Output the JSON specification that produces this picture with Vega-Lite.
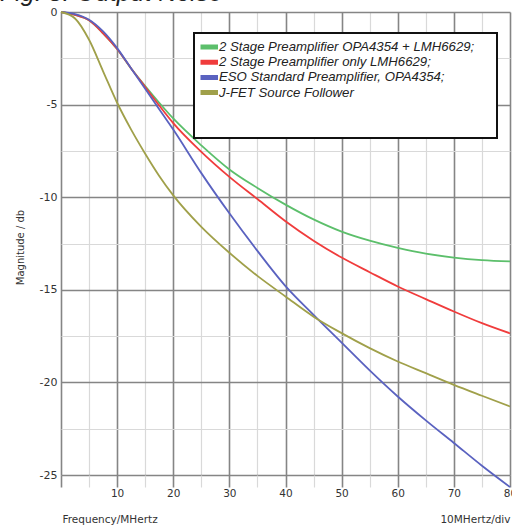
{
  "$schema": "https://vega.github.io/schema/vega-lite/v6.json",
  "width": 449,
  "height": 463,
  "autosize": "none",
  "padding": {"left": 61, "top": 12, "right": 2, "bottom": 52},
  "background": "white",
  "title": {
    "text": "Fig. 8: Output Noise",
    "font": "Liberation Sans",
    "fontSize": 25,
    "fontStyle": "italic",
    "fontWeight": "normal",
    "color": "#222222",
    "anchor": "start",
    "frame": "group",
    "dx": -61,
    "baseline": "alphabetic",
    "offset": -20
  },
  "config": {
    "view": {"stroke": null},
    "font": "DejaVu Sans",
    "legend": {"strokeWidth": 2}
  },
  "data": {
    "values": [
      {"f": 0, "db": 0, "s": "2 Stage Preamplifier OPA4354 + LMH6629;"},
      {"f": 2.5, "db": -0.15, "s": "2 Stage Preamplifier OPA4354 + LMH6629;"},
      {"f": 5, "db": -0.45, "s": "2 Stage Preamplifier OPA4354 + LMH6629;"},
      {"f": 7.5, "db": -1.15, "s": "2 Stage Preamplifier OPA4354 + LMH6629;"},
      {"f": 10, "db": -2.0, "s": "2 Stage Preamplifier OPA4354 + LMH6629;"},
      {"f": 12.5, "db": -3.05, "s": "2 Stage Preamplifier OPA4354 + LMH6629;"},
      {"f": 15, "db": -4.0, "s": "2 Stage Preamplifier OPA4354 + LMH6629;"},
      {"f": 17.5, "db": -4.9, "s": "2 Stage Preamplifier OPA4354 + LMH6629;"},
      {"f": 20, "db": -5.75, "s": "2 Stage Preamplifier OPA4354 + LMH6629;"},
      {"f": 25, "db": -7.2, "s": "2 Stage Preamplifier OPA4354 + LMH6629;"},
      {"f": 30, "db": -8.5, "s": "2 Stage Preamplifier OPA4354 + LMH6629;"},
      {"f": 35, "db": -9.5, "s": "2 Stage Preamplifier OPA4354 + LMH6629;"},
      {"f": 40, "db": -10.4, "s": "2 Stage Preamplifier OPA4354 + LMH6629;"},
      {"f": 45, "db": -11.2, "s": "2 Stage Preamplifier OPA4354 + LMH6629;"},
      {"f": 50, "db": -11.86, "s": "2 Stage Preamplifier OPA4354 + LMH6629;"},
      {"f": 55, "db": -12.35, "s": "2 Stage Preamplifier OPA4354 + LMH6629;"},
      {"f": 60, "db": -12.74, "s": "2 Stage Preamplifier OPA4354 + LMH6629;"},
      {"f": 65, "db": -13.05, "s": "2 Stage Preamplifier OPA4354 + LMH6629;"},
      {"f": 70, "db": -13.26, "s": "2 Stage Preamplifier OPA4354 + LMH6629;"},
      {"f": 75, "db": -13.4, "s": "2 Stage Preamplifier OPA4354 + LMH6629;"},
      {"f": 80, "db": -13.47, "s": "2 Stage Preamplifier OPA4354 + LMH6629;"},
      {"f": 0, "db": 0, "s": "2 Stage Preamplifier only LMH6629;"},
      {"f": 2.5, "db": -0.15, "s": "2 Stage Preamplifier only LMH6629;"},
      {"f": 5, "db": -0.45, "s": "2 Stage Preamplifier only LMH6629;"},
      {"f": 7.5, "db": -1.15, "s": "2 Stage Preamplifier only LMH6629;"},
      {"f": 10, "db": -2.0, "s": "2 Stage Preamplifier only LMH6629;"},
      {"f": 12.5, "db": -3.05, "s": "2 Stage Preamplifier only LMH6629;"},
      {"f": 15, "db": -4.05, "s": "2 Stage Preamplifier only LMH6629;"},
      {"f": 17.5, "db": -5.05, "s": "2 Stage Preamplifier only LMH6629;"},
      {"f": 20, "db": -6.0, "s": "2 Stage Preamplifier only LMH6629;"},
      {"f": 25, "db": -7.55, "s": "2 Stage Preamplifier only LMH6629;"},
      {"f": 30, "db": -8.9, "s": "2 Stage Preamplifier only LMH6629;"},
      {"f": 35, "db": -10.1, "s": "2 Stage Preamplifier only LMH6629;"},
      {"f": 40, "db": -11.3, "s": "2 Stage Preamplifier only LMH6629;"},
      {"f": 45, "db": -12.35, "s": "2 Stage Preamplifier only LMH6629;"},
      {"f": 50, "db": -13.26, "s": "2 Stage Preamplifier only LMH6629;"},
      {"f": 55, "db": -14.05, "s": "2 Stage Preamplifier only LMH6629;"},
      {"f": 60, "db": -14.82, "s": "2 Stage Preamplifier only LMH6629;"},
      {"f": 65, "db": -15.5, "s": "2 Stage Preamplifier only LMH6629;"},
      {"f": 70, "db": -16.17, "s": "2 Stage Preamplifier only LMH6629;"},
      {"f": 75, "db": -16.8, "s": "2 Stage Preamplifier only LMH6629;"},
      {"f": 80, "db": -17.35, "s": "2 Stage Preamplifier only LMH6629;"},
      {"f": 0, "db": 0, "s": "ESO Standard Preamplifier, OPA4354;"},
      {"f": 2.5, "db": -0.12, "s": "ESO Standard Preamplifier, OPA4354;"},
      {"f": 5, "db": -0.42, "s": "ESO Standard Preamplifier, OPA4354;"},
      {"f": 7.5, "db": -1.05, "s": "ESO Standard Preamplifier, OPA4354;"},
      {"f": 10, "db": -1.95, "s": "ESO Standard Preamplifier, OPA4354;"},
      {"f": 12.5, "db": -3.05, "s": "ESO Standard Preamplifier, OPA4354;"},
      {"f": 15, "db": -4.15, "s": "ESO Standard Preamplifier, OPA4354;"},
      {"f": 17.5, "db": -5.25, "s": "ESO Standard Preamplifier, OPA4354;"},
      {"f": 20, "db": -6.35, "s": "ESO Standard Preamplifier, OPA4354;"},
      {"f": 25, "db": -8.7, "s": "ESO Standard Preamplifier, OPA4354;"},
      {"f": 30, "db": -10.87, "s": "ESO Standard Preamplifier, OPA4354;"},
      {"f": 35, "db": -12.9, "s": "ESO Standard Preamplifier, OPA4354;"},
      {"f": 40, "db": -14.8, "s": "ESO Standard Preamplifier, OPA4354;"},
      {"f": 45, "db": -16.35, "s": "ESO Standard Preamplifier, OPA4354;"},
      {"f": 50, "db": -17.85, "s": "ESO Standard Preamplifier, OPA4354;"},
      {"f": 55, "db": -19.35, "s": "ESO Standard Preamplifier, OPA4354;"},
      {"f": 60, "db": -20.76, "s": "ESO Standard Preamplifier, OPA4354;"},
      {"f": 65, "db": -22.05, "s": "ESO Standard Preamplifier, OPA4354;"},
      {"f": 70, "db": -23.27, "s": "ESO Standard Preamplifier, OPA4354;"},
      {"f": 75, "db": -24.5, "s": "ESO Standard Preamplifier, OPA4354;"},
      {"f": 80, "db": -25.65, "s": "ESO Standard Preamplifier, OPA4354;"},
      {"f": 0, "db": 0, "s": "J-FET Source Follower"},
      {"f": 2.5, "db": -0.35, "s": "J-FET Source Follower"},
      {"f": 5, "db": -1.5, "s": "J-FET Source Follower"},
      {"f": 7.5, "db": -3.2, "s": "J-FET Source Follower"},
      {"f": 10, "db": -4.9, "s": "J-FET Source Follower"},
      {"f": 12.5, "db": -6.35, "s": "J-FET Source Follower"},
      {"f": 15, "db": -7.65, "s": "J-FET Source Follower"},
      {"f": 17.5, "db": -8.85, "s": "J-FET Source Follower"},
      {"f": 20, "db": -9.9, "s": "J-FET Source Follower"},
      {"f": 25, "db": -11.6, "s": "J-FET Source Follower"},
      {"f": 30, "db": -13.0, "s": "J-FET Source Follower"},
      {"f": 35, "db": -14.25, "s": "J-FET Source Follower"},
      {"f": 40, "db": -15.36, "s": "J-FET Source Follower"},
      {"f": 45, "db": -16.45, "s": "J-FET Source Follower"},
      {"f": 50, "db": -17.34, "s": "J-FET Source Follower"},
      {"f": 55, "db": -18.15, "s": "J-FET Source Follower"},
      {"f": 60, "db": -18.87, "s": "J-FET Source Follower"},
      {"f": 65, "db": -19.5, "s": "J-FET Source Follower"},
      {"f": 70, "db": -20.13, "s": "J-FET Source Follower"},
      {"f": 75, "db": -20.72, "s": "J-FET Source Follower"},
      {"f": 80, "db": -21.3, "s": "J-FET Source Follower"}
    ]
  },
  "layer": [
    {
      "mark": {"type": "line", "opacity": 0},
      "encoding": {
        "x": {
          "field": "f",
          "type": "quantitative",
          "scale": {"domain": [0, 80], "nice": false, "zero": false},
          "axis": {
            "orient": "bottom",
            "title": "10MHertz/div",
            "titleFont": "DejaVu Sans",
            "titleFontSize": 10.5,
            "titleFontWeight": "normal",
            "titleColor": "#333333",
            "titleX": 449,
            "titleY": 44,
            "titleAlign": "right",
            "titleAnchor": "end",
            "titleBaseline": "middle",
            "labels": false,
            "ticks": false,
            "domain": false,
            "grid": false
          }
        },
        "y": {"field": "db", "type": "quantitative", "scale": {"domain": [-25, 0], "nice": false, "zero": false}}
      }
    },
    {
      "mark": {"type": "line", "strokeWidth": 1.8, "interpolate": "monotone", "clip": false},
      "encoding": {
        "x": {
          "field": "f",
          "type": "quantitative",
          "scale": {"domain": [0, 80], "nice": false, "zero": false},
          "axis": {
            "orient": "bottom",
            "values": [0, 5, 10, 15, 20, 25, 30, 35, 40, 45, 50, 55, 60, 65, 70, 75, 80],
            "labelExpr": "datum.value % 10 === 0 && datum.value > 0 ? '' + datum.value : ''",
            "labelFont": "DejaVu Sans",
            "labelFontSize": 10.5,
            "labelColor": "#333333",
            "labelPadding": 1,
            "labelFlush": false,
            "labelOverlap": false,
            "domain": false,
            "ticks": true,
            "tickSize": 12,
            "tickColor": {"condition": {"test": "datum.value % 10 === 0", "value": "#858585"}, "value": "#d9d9d9"},
            "tickWidth": {"condition": {"test": "datum.value % 10 === 0", "value": 1.6}, "value": 1.2},
            "grid": true,
            "gridColor": {"condition": {"test": "datum.value % 10 === 0", "value": "#858585"}, "value": "#d9d9d9"},
            "gridWidth": {"condition": {"test": "datum.value % 10 === 0", "value": 1.6}, "value": 1.2},
            "gridOpacity": 1,
            "title": "Frequency/MHertz",
            "titleFont": "DejaVu Sans",
            "titleFontSize": 10.5,
            "titleFontWeight": "normal",
            "titleColor": "#333333",
            "titleX": 1,
            "titleY": 44,
            "titleAlign": "left",
            "titleAnchor": "start",
            "titleBaseline": "middle"
          }
        },
        "y": {
          "field": "db",
          "type": "quantitative",
          "scale": {"domain": [-25, 0], "nice": false, "zero": false},
          "axis": {
            "orient": "left",
            "values": [-25, -22.5, -20, -17.5, -15, -12.5, -10, -7.5, -5, -2.5, 0],
            "labelExpr": "datum.value % 5 === 0 ? '' + datum.value : ''",
            "labelFont": "DejaVu Sans",
            "labelFontSize": 11,
            "labelColor": "#333333",
            "labelPadding": 4,
            "labelFlush": false,
            "labelOverlap": false,
            "domain": false,
            "ticks": false,
            "grid": true,
            "gridColor": {"condition": {"test": "datum.value % 5 === 0", "value": "#858585"}, "value": "#d9d9d9"},
            "gridWidth": {"condition": {"test": "datum.value % 5 === 0", "value": 1.6}, "value": 1.2},
            "gridOpacity": 1,
            "title": "Magnitude / db",
            "titleFont": "DejaVu Sans",
            "titleFontSize": 10,
            "titleFontWeight": "normal",
            "titleColor": "#333333",
            "titleX": -41,
            "titleY": 235,
            "titleBaseline": "middle"
          }
        },
        "color": {
          "field": "s",
          "type": "nominal",
          "scale": {
            "domain": ["2 Stage Preamplifier OPA4354 + LMH6629;", "2 Stage Preamplifier only LMH6629;", "ESO Standard Preamplifier, OPA4354;", "J-FET Source Follower"],
            "range": ["#5cbf6b", "#f03c3c", "#5a62c0", "#a0a04a"]
          },
          "legend": {
            "orient": "none",
            "legendX": 133,
            "legendY": 21,
            "title": "_____________________________________",
            "titleOrient": "bottom",
            "titleFont": "DejaVu Sans Mono",
            "titleFontSize": 13,
            "titleOpacity": 0,
            "titleLimit": 600,
            "titlePadding": 18,
            "padding": 6.5,
            "fillColor": "white",
            "strokeColor": "#111111",
            "clipHeight": 15,
            "symbolType": "M-2,0H2",
            "symbolSize": 100,
            "symbolStrokeWidth": 5,
            "labelFont": "Liberation Sans",
            "labelFontStyle": "italic",
            "labelFontSize": 13.2,
            "labelColor": "#222222",
            "labelOffset": 3.5,
            "labelLimit": 400,
            "rowPadding": 0.2
          }
        }
      }
    }
  ],
  "resolve": {"axis": {"x": "independent"}}
}
